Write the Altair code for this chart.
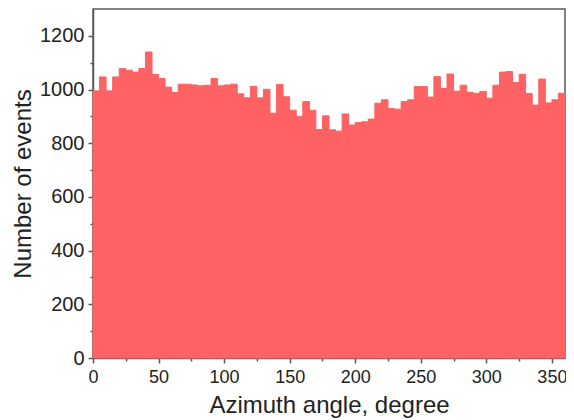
import altair as alt
import pandas as pd

# Histogram of azimuth angle, 5-degree bins (0..360)
bin_width = 5
counts = [995, 1047, 995, 1047, 1078, 1072, 1065, 1078, 1140, 1056, 1041, 1009, 989, 1020, 1020, 1017, 1014, 1016,
          1041, 1014, 1017, 1020, 984, 969, 1012, 969, 1001, 912, 1019, 973, 923, 900, 955, 923, 851, 902,
          850, 845, 909, 868, 877, 880, 890, 949, 962, 929, 927, 955, 962, 1011, 1011, 972, 1048, 1004,
          1058, 994, 1016, 990, 986, 993, 968, 1016, 1065, 1067, 1026, 1057, 985, 942, 1039, 950, 962, 986]

x_major = [0, 50, 100, 150, 200, 250, 300, 350]
x_minor = [25, 75, 125, 175, 225, 275, 325]
y_major = [0, 200, 400, 600, 800, 1000, 1200]
y_minor = [100, 300, 500, 700, 900, 1100]

df = pd.DataFrame({
    "start": [i * bin_width for i in range(len(counts))],
    "end": [(i + 1) * bin_width for i in range(len(counts))],
    "count": counts,
})

xscale = alt.Scale(domain=[0, 360], nice=False, zero=False)
yscale = alt.Scale(domain=[0, 1300], nice=False)

base = alt.Chart(df)

bars = base.mark_bar(color="#FF6262", stroke="#FF6262", strokeWidth=1).encode(
    x=alt.X("start:Q", scale=xscale,
            axis=alt.Axis(values=x_major, title="Azimuth angle, degree", orient="bottom",
                          labelPadding=5, titlePadding=7, format="d", labelFlush=False,
                          labelFontSize=18)),
    x2="end:Q",
    y=alt.Y("count:Q", scale=yscale,
            axis=alt.Axis(values=y_major, title="Number of events", orient="left",
                          labelPadding=4, titlePadding=4, format="d", labelFlush=False,
                          labelFontSize=20)),
    y2=alt.datum(0),
)

minor = base.mark_bar(opacity=0).encode(
    x=alt.X("start:Q", scale=xscale,
            axis=alt.Axis(values=x_minor, labels=False, title="", domain=False,
                          tickSize=3, orient="bottom")),
    x2="end:Q",
    y=alt.Y("count:Q", scale=yscale,
            axis=alt.Axis(values=y_minor, labels=False, title="", domain=False,
                          tickSize=3, orient="left")),
    y2=alt.datum(0),
)

chart = alt.layer(bars, minor).resolve_axis(
    x="independent", y="independent"
).properties(
    width=472,
    height=349,
    autosize=alt.AutoSizeParams(type="none"),
    padding={"left": 85, "top": 1, "right": 1, "bottom": 62},
    background="white",
).configure_view(
    stroke="#5a5a5a", strokeWidth=1.5
).configure_axis(
    grid=False,
    domainColor="#5a5a5a", domainWidth=1.5,
    tickColor="#5a5a5a", tickWidth=1.5, tickSize=5,
    labelFont="Liberation Sans", labelColor="#222222",
    titleFont="Liberation Sans", titleFontSize=24, titleColor="#222222",
    titleFontWeight="normal",
)

chart.save("out.html", embed_options={"renderer": "svg", "actions": False})
